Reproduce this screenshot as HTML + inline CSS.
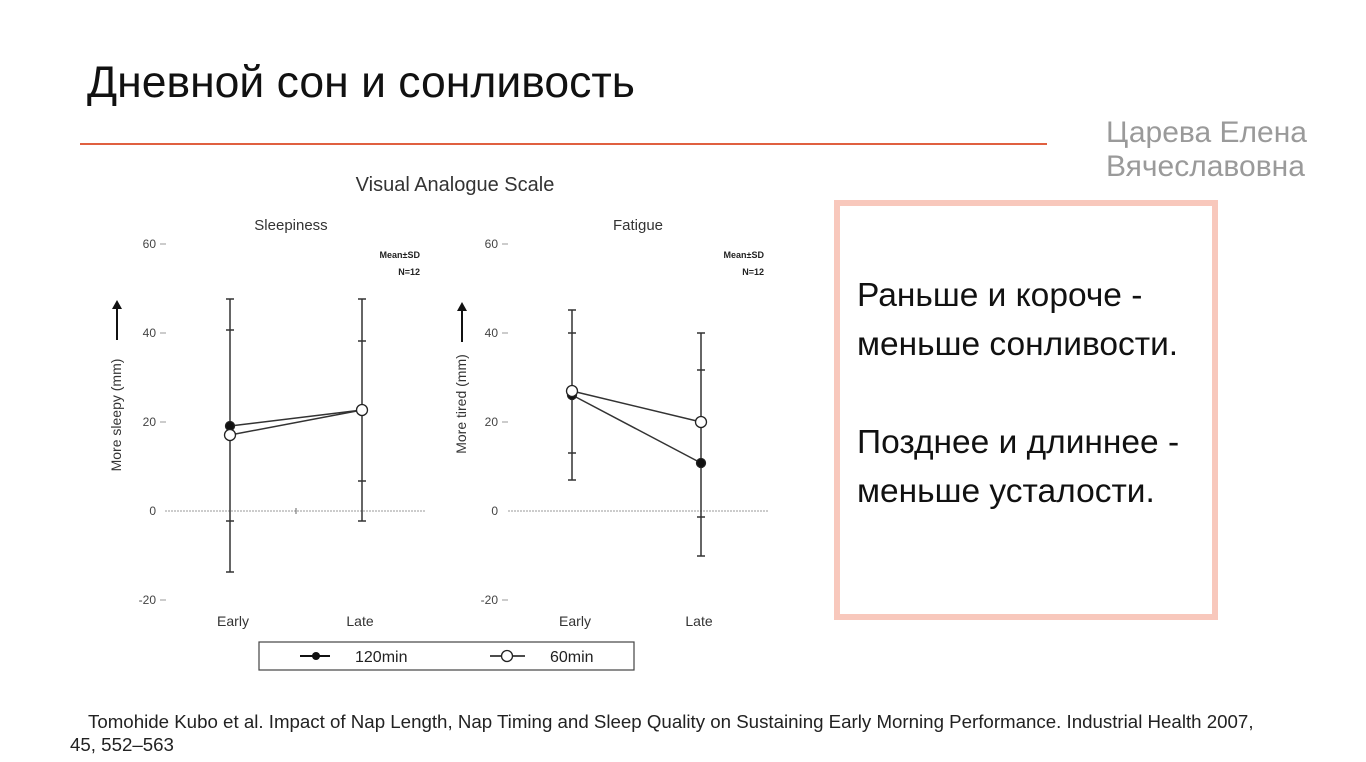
<!DOCTYPE html>
<html><head><meta charset="utf-8"><style>
body{margin:0;width:1366px;height:762px;background:#fff;overflow:hidden;position:relative;font-family:"Liberation Sans",sans-serif}
.t{position:absolute;white-space:nowrap}
</style></head><body>
<div class="t" style="left:87px;top:58px;font-size:44.5px;color:#111">Дневной сон и сонливость</div>
<div style="position:absolute;left:80px;top:143px;width:967px;height:2px;background:#e06040"></div>
<div class="t" style="left:1106px;top:116px;font-size:30px;color:#9a9a9a;line-height:34px">Царева Елена<br>Вячеславовна</div>
<div style="position:absolute;left:834px;top:200px;width:372px;height:408px;border:6px solid #f8c8bc"></div>
<div class="t" style="left:857px;top:271px;font-size:33.5px;color:#111;line-height:49px">Раньше и короче -<br>меньше сонливости.<br><br>Позднее и длиннее -<br>меньше усталости.</div>
<div class="t" style="left:88px;top:709px;font-size:18.7px;color:#222;line-height:25px">Tomohide Kubo et al. Impact of Nap Length, Nap Timing and Sleep Quality on Sustaining Early Morning Performance. Industrial Health 2007,</div>
<div class="t" style="left:70px;top:734px;font-size:18.7px;color:#222">45, 552–563</div>
<svg style="position:absolute;left:0;top:0" width="1366" height="762" font-family="Liberation Sans, sans-serif">
<text x="455" y="191" font-size="20" text-anchor="middle" fill="#333">Visual Analogue Scale</text>
<text x="291" y="230" font-size="15" text-anchor="middle" fill="#333">Sleepiness</text>
<text x="638" y="230" font-size="15" text-anchor="middle" fill="#333">Fatigue</text>
<g font-size="12" fill="#444" text-anchor="end">
<text x="156" y="248">60</text><text x="156" y="337">40</text><text x="156" y="426">20</text><text x="156" y="515">0</text><text x="156" y="604">-20</text>
<text x="498" y="248">60</text><text x="498" y="337">40</text><text x="498" y="426">20</text><text x="498" y="515">0</text><text x="498" y="604">-20</text>
</g>
<g font-size="9" font-weight="bold" fill="#222" text-anchor="end">
<text x="420" y="258">Mean±SD</text><text x="420" y="275">N=12</text>
<text x="764" y="258">Mean±SD</text><text x="764" y="275">N=12</text>
</g>
<text transform="translate(121,415) rotate(-90)" font-size="14" text-anchor="middle" fill="#333">More sleepy (mm)</text>
<text transform="translate(466,404) rotate(-90)" font-size="14" text-anchor="middle" fill="#333">More tired (mm)</text>
<g stroke="#111" stroke-width="2" fill="#111">
<line x1="117" y1="340" x2="117" y2="306"/><polygon points="112,309 117,300 122,309" stroke="none"/>
<line x1="462" y1="342" x2="462" y2="308"/><polygon points="457,311 462,302 467,311" stroke="none"/>
</g>
<g stroke="#999" stroke-width="1" stroke-dasharray="2,1">
<line x1="165" y1="511" x2="425" y2="511"/><line x1="508" y1="511" x2="768" y2="511"/>
</g>
<line x1="296" y1="508" x2="296" y2="514" stroke="#666"/>
<g stroke="#999"><line x1="160" y1="244" x2="166" y2="244"/><line x1="160" y1="333" x2="166" y2="333"/><line x1="160" y1="422" x2="166" y2="422"/><line x1="160" y1="600" x2="166" y2="600"/>
<line x1="502" y1="244" x2="508" y2="244"/><line x1="502" y1="333" x2="508" y2="333"/><line x1="502" y1="422" x2="508" y2="422"/><line x1="502" y1="600" x2="508" y2="600"/></g>
<g stroke="#333" stroke-width="1.5" fill="none">
<line x1="230" y1="299" x2="230" y2="572"/><line x1="226" y1="299" x2="234" y2="299"/><line x1="226" y1="572" x2="234" y2="572"/><line x1="226" y1="330" x2="234" y2="330"/><line x1="226" y1="521" x2="234" y2="521"/>
<line x1="362" y1="299" x2="362" y2="521"/><line x1="358" y1="299" x2="366" y2="299"/><line x1="358" y1="521" x2="366" y2="521"/><line x1="358" y1="341" x2="366" y2="341"/><line x1="358" y1="481" x2="366" y2="481"/>
<line x1="572" y1="310" x2="572" y2="480"/><line x1="568" y1="310" x2="576" y2="310"/><line x1="568" y1="480" x2="576" y2="480"/><line x1="568" y1="333" x2="576" y2="333"/><line x1="568" y1="453" x2="576" y2="453"/>
<line x1="701" y1="333" x2="701" y2="556"/><line x1="697" y1="333" x2="705" y2="333"/><line x1="697" y1="556" x2="705" y2="556"/><line x1="697" y1="370" x2="705" y2="370"/><line x1="697" y1="517" x2="705" y2="517"/>
<polyline points="230,426 362,410"/><polyline points="230,435 362,410"/>
<polyline points="572,395 701,463"/><polyline points="572,391 701,422"/>
</g>
<g stroke="#222" stroke-width="1.3">
<circle cx="230" cy="426" r="4.5" fill="#111"/><circle cx="230" cy="435" r="5.5" fill="#fff"/><circle cx="362" cy="410" r="5.5" fill="#fff"/>
<circle cx="572" cy="395" r="4.5" fill="#111"/><circle cx="572" cy="391" r="5.5" fill="#fff"/><circle cx="701" cy="463" r="4.5" fill="#111"/><circle cx="701" cy="422" r="5.5" fill="#fff"/>
</g>
<g font-size="14" fill="#333" text-anchor="middle">
<text x="233" y="626">Early</text><text x="360" y="626">Late</text><text x="575" y="626">Early</text><text x="699" y="626">Late</text>
</g>
<rect x="259" y="642" width="375" height="28" fill="none" stroke="#444" stroke-width="1.2"/>
<line x1="300" y1="656" x2="330" y2="656" stroke="#111" stroke-width="2"/><circle cx="316" cy="656" r="4" fill="#111"/>
<text x="355" y="662" font-size="16" fill="#222">120min</text>
<line x1="490" y1="656" x2="525" y2="656" stroke="#111" stroke-width="1.5"/><circle cx="507" cy="656" r="5.5" fill="#fff" stroke="#222" stroke-width="1.3"/>
<text x="550" y="662" font-size="16" fill="#222">60min</text>
</svg>
</body></html>
